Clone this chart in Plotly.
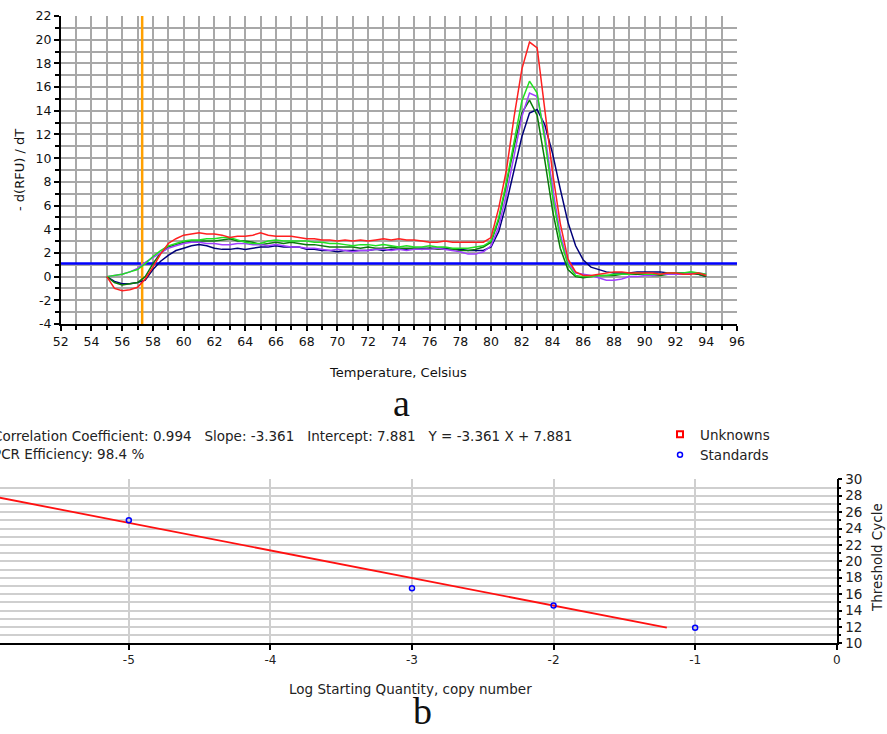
import plotly.graph_objects as go

# ---------------- data: melt curve (panel a) ----------------
temps = [55 + 0.5 * i for i in range(79)]  # 55.0 ... 94.0 sampling grid

red = [0.0, -1.0, -1.2, -1.1, -0.9, -0.2, 0.8, 1.9, 2.8, 3.2,
       3.5, 3.6, 3.7, 3.6, 3.6, 3.5, 3.3, 3.4, 3.4, 3.5,
       3.7, 3.5, 3.4, 3.4, 3.4, 3.3, 3.2, 3.2, 3.1, 3.1,
       3.0, 3.1, 3.0, 3.1, 3.0, 3.1, 3.2, 3.1, 3.2, 3.1,
       3.1, 3.0, 2.9, 2.9, 3.0, 2.9, 2.9, 2.9, 2.9, 2.9,
       3.3, 5.8, 9.0, 13.5, 17.5, 19.8, 19.3, 14.0, 8.8, 4.5,
       1.5, 0.4, 0.1, 0.1, 0.2, 0.3, 0.4, 0.4, 0.3, 0.3,
       0.3, 0.3, 0.2, 0.3, 0.3, 0.2, 0.2, 0.3, 0.1]

lime = [0.0, 0.1, 0.2, 0.4, 0.6, 1.1, 1.7, 2.2, 2.6, 2.8,
        3.0, 3.1, 3.1, 3.2, 3.2, 3.3, 3.3, 3.1, 2.9, 2.8,
        2.8, 3.0, 3.1, 3.0, 3.0, 3.0, 3.0, 2.9, 2.9, 2.8,
        2.8, 2.7, 2.6, 2.7, 2.7, 2.6, 2.7, 2.6, 2.5, 2.6,
        2.5, 2.5, 2.6, 2.5, 2.5, 2.4, 2.4, 2.4, 2.5, 2.6,
        3.0, 5.0, 8.0, 11.5, 14.8, 16.5, 15.5, 11.5, 6.8, 3.2,
        1.0, 0.1, 0.0, 0.0, 0.1, 0.1, 0.2, 0.2, 0.2, 0.3,
        0.2, 0.2, 0.2, 0.3, 0.3, 0.3, 0.4, 0.3, 0.2]

dark_green = [0.0, -0.5, -0.7, -0.6, -0.5, 0.0, 1.1, 2.0, 2.5, 2.7,
              2.9, 3.0, 3.0, 3.0, 3.0, 3.1, 3.2, 3.0, 3.0, 2.9,
              2.7, 2.8, 2.9, 2.8, 2.9, 2.8, 2.7, 2.7, 2.6, 2.5,
              2.5, 2.5, 2.5, 2.4, 2.5, 2.4, 2.4, 2.5, 2.4, 2.4,
              2.4, 2.3, 2.4, 2.3, 2.3, 2.3, 2.2, 2.2, 2.3, 2.5,
              2.9, 4.8, 7.8, 11.0, 13.8, 14.9, 13.6, 9.8, 5.6, 2.4,
              0.6, 0.0, -0.1, 0.0, 0.1, 0.1, 0.1, 0.2, 0.2, 0.2,
              0.2, 0.1, 0.1, 0.2, 0.2, 0.2, 0.3, 0.2, 0.0]

purple = [0.0, 0.1, 0.2, 0.4, 0.7, 1.2, 1.6, 2.0, 2.4, 2.6,
          2.8, 2.9, 2.9, 2.8, 2.8, 2.7, 2.7, 2.8, 2.8, 2.7,
          2.7, 2.6, 2.7, 2.6, 2.5, 2.5, 2.4, 2.4, 2.3, 2.2,
          2.3, 2.2, 2.1, 2.2, 2.2, 2.3, 2.3, 2.2, 2.3, 2.2,
          2.3, 2.3, 2.3, 2.4, 2.3, 2.2, 2.1, 1.9, 1.9, 2.1,
          2.6, 4.2, 7.0, 10.2, 13.5, 15.5, 15.2, 12.0, 7.5, 3.6,
          1.2, 0.3, 0.2, 0.1, -0.1, -0.3, -0.3, -0.2, 0.0, 0.0,
          0.1, 0.1, 0.2, 0.2, 0.2, 0.2, 0.3, 0.3, 0.2]

navy = [0.0, -0.4, -0.6, -0.6, -0.5, -0.3, 0.6, 1.3, 1.8, 2.2,
        2.4, 2.6, 2.7, 2.6, 2.4, 2.3, 2.3, 2.4, 2.3, 2.4,
        2.5, 2.5, 2.6, 2.5, 2.5, 2.5, 2.3, 2.3, 2.2, 2.2,
        2.1, 2.2, 2.2, 2.2, 2.2, 2.3, 2.2, 2.3, 2.3, 2.3,
        2.4, 2.4, 2.4, 2.4, 2.4, 2.3, 2.3, 2.2, 2.2, 2.2,
        2.5, 3.8, 6.2, 9.0, 11.8, 13.8, 14.1, 12.8, 10.4, 7.4,
        4.6, 2.6, 1.4, 0.8, 0.6, 0.4, 0.3, 0.3, 0.3, 0.4,
        0.4, 0.4, 0.4, 0.3, 0.3, 0.3, 0.3, 0.2, 0.0]

threshold_value = 1.1
marker_temp = 57.3
temp_ticks = list(range(52, 97, 2))
drfu_ticks = list(range(-4, 23, 2))

# ---------------- data: standard curve (panel b) ----------------
std_log_qty = [-5, -3, -2, -1]
std_ct = [25.0, 16.7, 14.6, 11.9]
fit_x = [-6.0, -1.2]
fit_y = [28.05, 11.91]
logq_ticks = [-5, -4, -3, -2, -1, 0]
ct_ticks = list(range(10, 31, 2))

W, H = 887, 734
FONT = "DejaVu Sans"


def px(x):
    return x / W


def py(y):
    return 1 - y / H


fig = go.Figure()

# panel a traces
fig.add_trace(go.Scatter(x=[52, 96], y=[threshold_value, threshold_value], mode="lines",
                         line=dict(color="#0000ff", width=2.5), xaxis="x", yaxis="y",
                         showlegend=False, hoverinfo="skip"))
fig.add_trace(go.Scatter(x=[marker_temp, marker_temp], y=[-4, 22], mode="lines",
                         line=dict(color="#ffa000", width=2.5), xaxis="x", yaxis="y",
                         showlegend=False, hoverinfo="skip"))
for series, color in [(navy, "#00007a"), (dark_green, "#0a7a0a"), (purple, "#a040ff"),
                      (lime, "#22e022"), (red, "#ff2020")]:
    fig.add_trace(go.Scatter(x=temps, y=series, mode="lines", line=dict(color=color, width=1.5),
                             xaxis="x", yaxis="y", showlegend=False))

# panel b traces
fig.add_trace(go.Scatter(x=[None], y=[None], mode="markers", name="Unknowns",
                         marker=dict(symbol="square-open", size=6, color="#ff0000",
                                     line=dict(width=2)),
                         xaxis="x2", yaxis="y2"))
fig.add_trace(go.Scatter(x=fit_x, y=fit_y, mode="lines", line=dict(color="#ff1010", width=1.8),
                         xaxis="x2", yaxis="y2", showlegend=False))
fig.add_trace(go.Scatter(x=std_log_qty, y=std_ct, mode="markers", name="Standards",
                         marker=dict(symbol="circle-open", size=5, color="#0000ff",
                                     line=dict(width=1.5)),
                         xaxis="x2", yaxis="y2"))

grid_a = "#a8a8a8"
grid_b = "#cfcfcf"

fig.update_layout(
    width=W, height=H,
    margin=dict(l=0, r=0, t=0, b=0, pad=0, autoexpand=False),
    paper_bgcolor="white", plot_bgcolor="white",
    font=dict(family=FONT, size=12, color="#111"),
    xaxis=dict(domain=[px(60.7), px(737)], anchor="y", range=[52, 96], automargin=False,
               tickvals=temp_ticks, ticktext=[str(v) for v in temp_ticks],
               showgrid=True, gridcolor=grid_a, gridwidth=1.5,
               minor=dict(dtick=1, tick0=52, showgrid=True, gridcolor=grid_a, gridwidth=1.5,
                          ticks="outside", ticklen=4, tickcolor="black", tickwidth=1.5),
               ticks="outside", ticklen=5, tickcolor="black", tickwidth=1.5,
               showline=True, linecolor="black", linewidth=1.5, zeroline=False,
               tickfont=dict(size=12.5, color="#111")),
    yaxis=dict(domain=[py(324), py(16)], anchor="x", range=[-4, 22], automargin=False,
               tickvals=drfu_ticks, ticktext=[str(v) for v in drfu_ticks],
               showgrid=True, gridcolor=grid_a, gridwidth=1.5,
               minor=dict(dtick=1, tick0=0, showgrid=True, gridcolor=grid_a, gridwidth=1.5,
                          ticks="outside", ticklen=4, tickcolor="black", tickwidth=1.5),
               ticks="outside", ticklen=5, tickcolor="black", tickwidth=1.5,
               showline=True, linecolor="black", linewidth=1.5, zeroline=False,
               tickfont=dict(size=12.5, color="#111")),
    xaxis2=dict(domain=[0, px(836.7)], anchor="y2", range=[-5.91, 0], automargin=False,
                tickvals=logq_ticks, ticktext=[str(v) for v in logq_ticks],
                showgrid=True, gridcolor=grid_b, gridwidth=1.5,
                ticks="outside", ticklen=5, tickcolor="black", tickwidth=1.5,
                showline=True, linecolor="black", linewidth=1.5, zeroline=False,
                tickfont=dict(size=12, color="#222")),
    yaxis2=dict(domain=[py(643.3), py(479.3)], anchor="x2", side="right", range=[10, 30],
                automargin=False,
                tickvals=ct_ticks, ticktext=[str(v) for v in ct_ticks],
                showgrid=True, gridcolor=grid_b, gridwidth=1.5,
                minor=dict(dtick=1, tick0=10, showgrid=True, gridcolor=grid_b, gridwidth=1.5,
                           ticks="outside", ticklen=3, tickcolor="black", tickwidth=1.5),
                ticks="outside", ticklen=4, tickcolor="black", tickwidth=1.5,
                showline=True, linecolor="black", linewidth=1.5, zeroline=False,
                tickfont=dict(size=13.5, color="#222")),
    legend=dict(x=px(660), y=py(419), xanchor="left", yanchor="top",
                bgcolor="rgba(0,0,0,0)", font=dict(size=13.5, color="#222"),
                tracegroupgap=0, itemwidth=30),
    showlegend=True,
)

NB = "\u00a0"
annotations = [
    dict(text="- d(RFU) / dT", x=px(20), y=py(170), textangle=-90, font=dict(size=13)),
    dict(text="Temperature, Celsius", x=px(398), y=py(372), font=dict(size=13)),
    dict(text="a", x=px(401), y=py(403), font=dict(family="Liberation Serif", size=38)),
    dict(text=("Correlation Coefficient: 0.994" + NB * 3 + "Slope: -3.361" + NB * 3 +
               "Intercept: 7.881" + NB * 3 + "Y = -3.361 X + 7.881"),
         x=px(-9), y=py(436), xanchor="left", font=dict(size=13.5, color="#222")),
    dict(text="PCR Efficiency: 98.4 %", x=px(-9), y=py(454), xanchor="left",
         font=dict(size=13.5, color="#222")),
    dict(text="Threshold Cycle", x=px(877), y=py(558), textangle=-90,
         font=dict(size=13.5, color="#222")),
    dict(text="Log Starting Quantity, copy number", x=px(410), y=py(689),
         font=dict(size=13.5, color="#222")),
    dict(text="b", x=px(422), y=0.0, yanchor="bottom",
         font=dict(family="Liberation Serif", size=38)),
]
for a in annotations:
    a.setdefault("xref", "paper")
    a.setdefault("yref", "paper")
    a.setdefault("showarrow", False)
    a.setdefault("xanchor", "center")
    a.setdefault("yanchor", "middle")
fig.update_layout(annotations=annotations)

fig.write_html("out.html", config={"displayModeBar": False},
               post_script="document.body.style.margin='0';")
